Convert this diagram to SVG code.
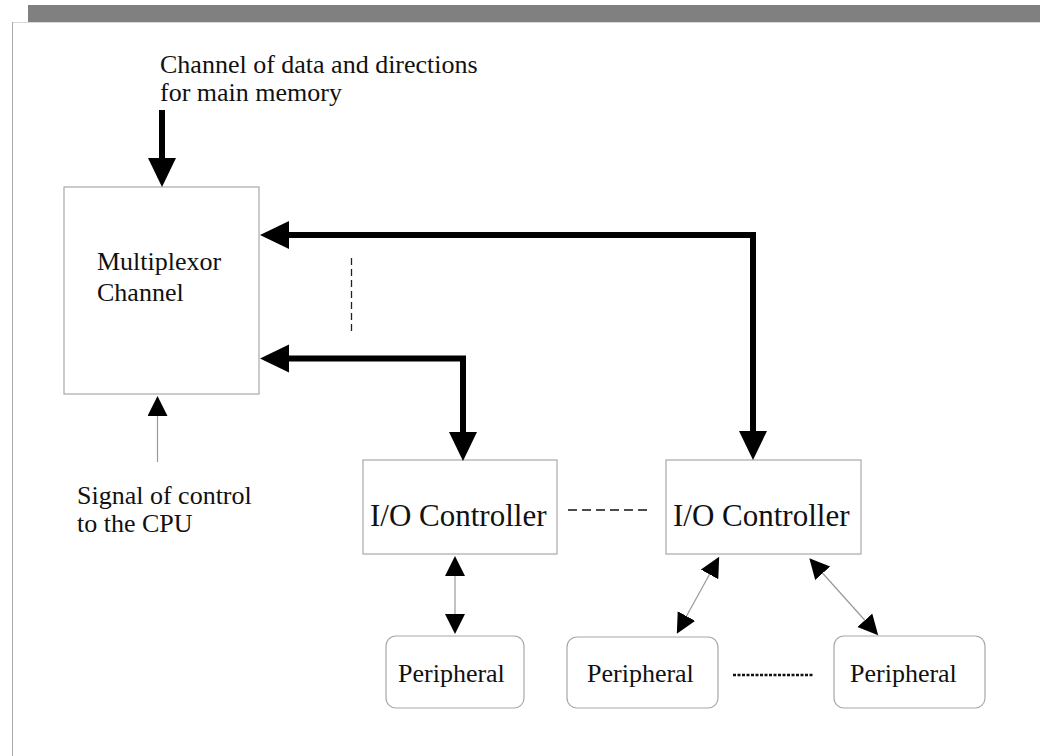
<svg xmlns="http://www.w3.org/2000/svg" width="1040" height="756" viewBox="0 0 1040 756">
  <style>
    .box { fill: #ffffff; stroke: #a8a8a8; stroke-width: 1.2; }
    .label { font-family: "Liberation Serif", "Times New Roman", serif; font-size: 26px; fill: #111; }
    .big { font-size: 31px; }
    .bus { fill: none; stroke: #000; stroke-width: 6; stroke-linejoin: miter; }
    .thin { fill: none; stroke: #999; stroke-width: 1.2; }
  </style>
  <defs>
    <marker id="headBig" markerUnits="userSpaceOnUse" markerWidth="30" markerHeight="30" viewBox="0 0 30 30" refX="1" refY="14" orient="auto-start-reverse">
      <path d="M0,0 L29,14 L0,28 z" fill="#000"/>
    </marker>
    <marker id="headSmall" markerUnits="userSpaceOnUse" markerWidth="22" markerHeight="22" viewBox="0 0 22 22" refX="1" refY="10" orient="auto-start-reverse">
      <path d="M0,0 L20,10 L0,20 z" fill="#000"/>
    </marker>
  </defs>

  <!-- page frame -->
  <rect x="28" y="5" width="1012" height="17" fill="#808080"/>
  <line x1="12" y1="22.5" x2="1040" y2="22.5" stroke="#d8d8d8" stroke-width="1"/>
  <line x1="12.5" y1="22" x2="12.5" y2="756" stroke="#aaaaaa" stroke-width="1"/>

  <!-- free labels -->
  <g id="memory-label">
    <text class="label" x="160" y="73">Channel of data and directions</text>
    <text class="label" x="160" y="101">for main memory</text>
  </g>
  <g id="cpu-label">
    <text class="label" x="77" y="504">Signal of control</text>
    <text class="label" x="77" y="532">to the CPU</text>
  </g>

  <!-- nodes -->
  <g id="multiplexor">
    <rect class="box" x="64" y="187" width="195" height="207"/>
    <text class="label" x="97" y="270">Multiplexor</text>
    <text class="label" x="97" y="301">Channel</text>
  </g>
  <g id="io-controller-1">
    <rect class="box" x="363" y="460" width="194" height="94"/>
    <text class="label big" x="370" y="526">I/O Controller</text>
  </g>
  <g id="io-controller-2">
    <rect class="box" x="666" y="460" width="195" height="94"/>
    <text class="label big" x="673" y="526">I/O Controller</text>
  </g>
  <g id="peripheral-1">
    <rect class="box" x="386" y="636" width="138" height="72" rx="10"/>
    <text class="label" x="398" y="682">Peripheral</text>
  </g>
  <g id="peripheral-2">
    <rect class="box" x="567" y="637" width="151" height="71" rx="10"/>
    <text class="label" x="587" y="682">Peripheral</text>
  </g>
  <g id="peripheral-3">
    <rect class="box" x="834" y="636" width="151" height="72" rx="10"/>
    <text class="label" x="850" y="682">Peripheral</text>
  </g>

  <!-- connectors -->
  <g id="connectors">
    <!-- memory data bus into the multiplexor -->
    <line class="bus" x1="162" y1="110" x2="162" y2="159" marker-end="url(#headBig)"/>
    <!-- multiplexor to controller 2 -->
    <path class="bus" d="M288,235 H753 V432" marker-start="url(#headBig)" marker-end="url(#headBig)"/>
    <!-- multiplexor to controller 1 -->
    <path class="bus" d="M288,358.5 H463 V433" marker-start="url(#headBig)" marker-end="url(#headBig)"/>
    <!-- further subchannels -->
    <line x1="351.5" y1="258" x2="351.5" y2="335" stroke="#222" stroke-width="1.3" stroke-dasharray="7,4"/>
    <!-- control signal to the CPU -->
    <line class="thin" x1="157.5" y1="462" x2="157.5" y2="415" marker-end="url(#headSmall)"/>
    <!-- further controllers -->
    <line x1="568" y1="510" x2="650" y2="510" stroke="#111" stroke-width="1.5" stroke-dasharray="9,5"/>
    <!-- controller to peripheral links -->
    <line class="thin" x1="455" y1="575" x2="455" y2="615" marker-start="url(#headSmall)" marker-end="url(#headSmall)"/>
    <line class="thin" x1="710" y1="573.5" x2="686" y2="617" marker-start="url(#headSmall)" marker-end="url(#headSmall)"/>
    <line class="thin" x1="822" y1="572.5" x2="865.5" y2="621" marker-start="url(#headSmall)" marker-end="url(#headSmall)"/>
    <!-- further peripherals -->
    <line x1="733" y1="675" x2="813" y2="675" stroke="#111" stroke-width="2.5" stroke-dasharray="3,1.5"/>
  </g>
</svg>
